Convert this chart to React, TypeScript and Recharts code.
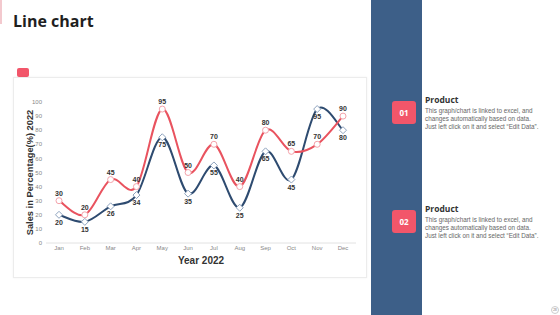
import { LineChart, Line, XAxis, YAxis, LabelList } from "recharts";

const months = ["Jan", "Feb", "Mar", "Apr", "May", "Jun", "Jul", "Aug", "Sep", "Oct", "Nov", "Dec"];
const productA = [30, 20, 45, 40, 95, 50, 70, 40, 80, 65, 70, 90];
const productB = [20, 15, 26, 34, 75, 35, 55, 25, 65, 45, 95, 80];
const yTicks = [0, 10, 20, 30, 40, 50, 60, 70, 80, 90, 100];

const RED = "#E9535F";
const BLUE = "#2E4B70";
const PINK = "#F2566A";
const BAND = "#3D5F88";

const data = months.map((m, i) => ({ month: m, a: productA[i], b: productB[i] }));

// Catmull-Rom style smoothing, close to the spreadsheet "smoothed line"
function smoothCurve(context: any) {
  let pts: number[][] = [];
  return {
    areaStart() {},
    areaEnd() {},
    lineStart() {
      pts = [];
    },
    point(x: number, y: number) {
      pts.push([+x, +y]);
    },
    lineEnd() {
      if (!pts.length) return;
      context.moveTo(pts[0][0], pts[0][1]);
      for (let i = 0; i < pts.length - 1; i++) {
        const p0 = pts[i - 1] || pts[i];
        const p1 = pts[i];
        const p2 = pts[i + 1];
        const p3 = pts[i + 2] || pts[i + 1];
        context.bezierCurveTo(
          p1[0] + (p2[0] - p0[0]) / 6,
          p1[1] + (p2[1] - p0[1]) / 6,
          p2[0] - (p3[0] - p1[0]) / 6,
          p2[1] - (p3[1] - p1[1]) / 6,
          p2[0],
          p2[1]
        );
      }
    },
  };
}

const CircleDot = (props: any) => {
  const { cx, cy } = props;
  if (cx == null || cy == null) return null;
  return <circle cx={cx} cy={cy} r={3} fill="#fff" stroke="#F4A3AB" strokeWidth={1} />;
};

const DiamondDot = (props: any) => {
  const { cx, cy } = props;
  if (cx == null || cy == null) return null;
  const s = 3.5;
  return (
    <path
      d={`M${cx},${cy - s}L${cx + s},${cy}L${cx},${cy + s}L${cx - s},${cy}Z`}
      fill="#fff"
      stroke="#8EA3BE"
      strokeWidth={1}
    />
  );
};

const FONT = "Liberation Sans, Arial, sans-serif";
const tickStyle = { fontSize: 6, fill: "#888", fontFamily: FONT };

function ProductNote({ num, top }: { num: string; top: number }) {
  return (
    <>
      <div
        style={{
          position: "absolute",
          left: 392,
          top: top + 1,
          width: 24,
          height: 23,
          background: PINK,
          borderRadius: 3,
          color: "#fff",
          fontFamily: "Open Sans, sans-serif",
          fontWeight: 700,
          fontSize: 8,
          lineHeight: "23px",
          textAlign: "center",
        }}
      >
        {num}
      </div>
      <div
        style={{
          position: "absolute",
          left: 425,
          top: top - 6,
          fontFamily: "Open Sans, sans-serif",
          fontWeight: 700,
          fontSize: 8.5,
          color: "#333",
        }}
      >
        Product
      </div>
      <div
        style={{
          position: "absolute",
          left: 425,
          top: top + 7,
          width: 130,
          fontFamily: FONT,
          fontSize: 6.3,
          lineHeight: "8px",
          color: "#666",
        }}
      >
        This graph/chart is linked to excel, and
        <br />
        changes automatically based on data.
        <br />
        Just left click on it and select “Edit Data”.
      </div>
    </>
  );
}

const valueLabelProps = {
  offset: 5,
  fill: "#333",
  stroke: "none",
  fontSize: 7,
  fontWeight: 700,
  fontFamily: FONT,
  style: { fill: "#333", stroke: "none" },
};

export default function App() {
  return (
    <div
      style={{
        position: "absolute",
        left: 0,
        top: 0,
        width: 560,
        height: 315,
        background: "#fff",
        overflow: "hidden",
      }}
    >
      <div style={{ position: "absolute", left: 0, top: 0, width: 2, height: 24, background: "#F3C9CE" }} />
      <div
        style={{
          position: "absolute",
          left: 13,
          top: 10,
          fontFamily: "Open Sans, sans-serif",
          fontWeight: 700,
          fontSize: 16,
          color: "#1f1f1f",
        }}
      >
        Line chart
      </div>

      <div style={{ position: "absolute", left: 17, top: 68, width: 12, height: 9, background: PINK, borderRadius: 2 }} />
      <div
        style={{
          position: "absolute",
          left: 13,
          top: 77,
          width: 352,
          height: 199,
          border: "1px solid #ececec",
          boxShadow: "0 0 2px rgba(0,0,0,0.06)",
        }}
      />

      <div style={{ position: "absolute", left: 13, top: 80 }}>
        <LineChart width={353} height={195} data={data} margin={{ top: 22, right: 10, bottom: 2, left: 0 }}>
          <XAxis
            dataKey="month"
            tick={tickStyle}
            tickLine={false}
            axisLine={{ stroke: "#e2e2e2" }}
            height={30}
            tickSize={3}
            tickMargin={0}
            interval={0}
            padding={{ left: 13, right: 13 }}
            label={{
              value: "Year 2022",
              position: "insideBottom",
              offset: 9,
              style: { fontSize: 10, fontWeight: 700, fill: "#333", fontFamily: FONT },
            }}
          />
          <YAxis
            domain={[0, 100]}
            ticks={yTicks}
            tick={tickStyle}
            tickLine={false}
            axisLine={false}
            width={33}
            tickSize={4}
            tickMargin={0}
            label={{
              value: "Sales in Percentage(%) 2022",
              angle: -90,
              position: "insideLeft",
              offset: 17,
              style: {
                textAnchor: "middle",
                fontSize: 9.3,
                fontWeight: 700,
                fill: "#333",
                fontFamily: FONT,
              },
            }}
          />
          <Line
            dataKey="b"
            type={smoothCurve as any}
            stroke={BLUE}
            strokeWidth={2}
            dot={<DiamondDot />}
            activeDot={false}
            isAnimationActive={false}
          >
            <LabelList dataKey="b" position="bottom" {...valueLabelProps} />
          </Line>
          <Line
            dataKey="a"
            type={smoothCurve as any}
            stroke={RED}
            strokeWidth={2}
            dot={<CircleDot />}
            activeDot={false}
            isAnimationActive={false}
          >
            <LabelList dataKey="a" position="top" {...valueLabelProps} />
          </Line>
        </LineChart>
      </div>

      <div style={{ position: "absolute", left: 371, top: 0, width: 51, height: 315, background: BAND }} />
      <ProductNote num="01" top={100} />
      <ProductNote num="02" top={209} />

      <div
        style={{
          position: "absolute",
          left: 551,
          top: 306,
          width: 8,
          height: 8,
          borderRadius: "50%",
          border: "1px solid #ccc",
          boxSizing: "border-box",
          fontSize: 3,
          lineHeight: "6px",
          textAlign: "center",
          color: "#666",
          fontFamily: FONT,
        }}
      >
        28
      </div>
    </div>
  );
}
